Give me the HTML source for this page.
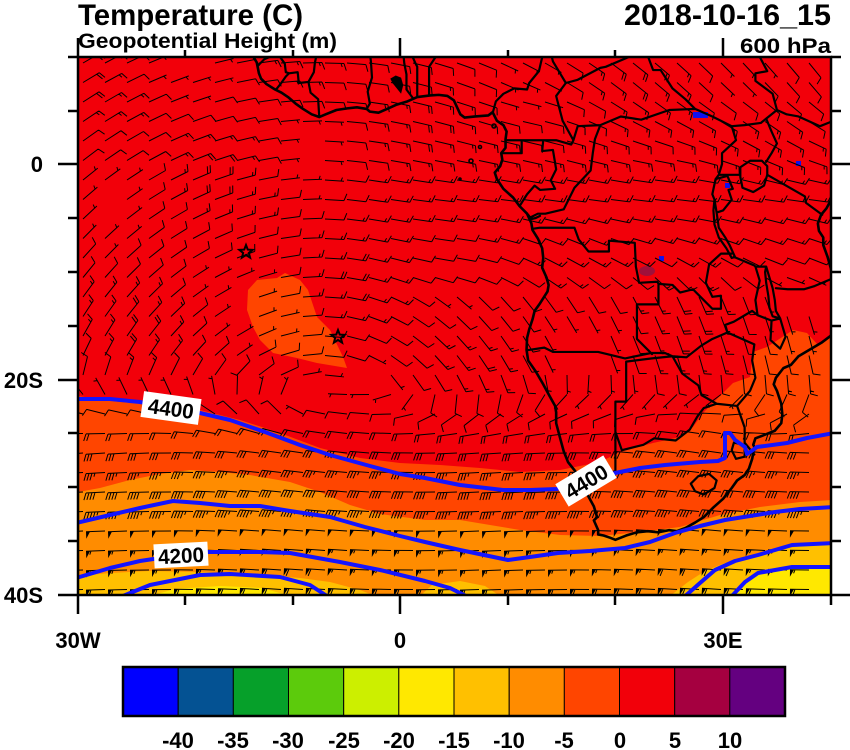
<!DOCTYPE html>
<html><head><meta charset="utf-8">
<style>
html,body{margin:0;padding:0;background:#fff;}
svg{display:block;}
text{font-family:"Liberation Sans",Arial,sans-serif;fill:#000;font-weight:bold;}
</style></head>
<body>
<svg id="s" width="850" height="750" viewBox="0 0 850 750" xmlns="http://www.w3.org/2000/svg">
<defs><clipPath id="mc"><rect x="78" y="57" width="754" height="538"/></clipPath></defs>
<rect x="0" y="0" width="850" height="750" fill="#fff"/>
<g clip-path="url(#mc)">
<rect x="78" y="57" width="754" height="538" fill="#F2000A"/>
<path fill="#FF4500" d="M78,396 L120,402 L170,404 L200,410 L240,420 L280,433 L320,448 L360,458 L400,463 L440,465 L480,468 L520,472 L560,470 L600,462 L620,452 L653,443 L680,437 L693,427 L703,413 L713,403 L733,383 L750,377 L753,352 L767,347 L793,330 L807,333 L818,345 L832,337 L832,596 L78,596 Z"/>
<path fill="#FF4500" d="M285,273 L300,280 L308,290 L317,317 L330,330 L343,357 L347,368 L317,363 L297,358 L273,353 L260,340 L253,327 L247,310 L248,290 L257,280 L277,278 Z"/>
<path fill="#FF8C00" d="M78,492 L100,488 L130,480 L160,474 L190,470 L220,472 L250,475 L290,482 L320,492 L350,505 L380,514 L425,520 L460,520 L490,525 L520,530 L560,535 L600,536 L640,532 L680,527 L720,515 L760,507 L800,502 L832,500 L832,596 L78,596 Z"/>
<path fill="#FFC000" d="M78,576 L110,573 L150,571 L200,572 L250,574 L300,578 L330,582 L360,590 L375,596 L78,596 Z"/>
<path fill="#FFC000" d="M420,596 L432,585 L460,581 L485,586 L500,596 Z"/>
<path fill="#FFC000" d="M670,596 L688,582 L705,571 L725,563 L750,556 L780,549 L810,545 L832,543 L832,596 Z"/>
<path fill="#FFE800" d="M150,596 L175,589 L220,586 L262,588 L290,596 Z"/>
<path fill="#FFE800" d="M728,596 L742,583 L758,573 L790,567 L832,566 L832,596 Z"/>
<rect x="693" y="112" width="15" height="6" fill="#1010F0"/>
<rect x="725" y="183" width="5" height="5" fill="#1010F0"/>
<rect x="796" y="161" width="5" height="5" fill="#1010F0"/>
<rect x="659" y="256" width="5" height="5" fill="#1010F0"/>
<ellipse cx="647" cy="271" rx="8" ry="5" fill="#A0103A"/>

<g transform="matrix(10.77 0 0 -10.8 400 164)" fill="none" stroke="#000" stroke-linejoin="round" stroke-linecap="round">
<path vector-effect="non-scaling-stroke" stroke-width="2.6" d="M-13.8 10.3 L-13.6 9.9 L-13.3 9.4 L-13.2 8.9 L-13.1 8.4 L-12.9 7.9 L-12.4 7.4 L-11.6 6.9 L-11.0 6.6 L-10.4 6.2 L-9.7 5.6 L-9.0 5.1 L-8.2 4.6 L-7.5 4.35 L-6.9 4.6 L-5.9 5.0 L-4.9 5.15 L-4.0 5.25 L-3.1 5.1 L-2.8 4.85 L-2.0 4.75 L-1.2 5.1 L-0.3 5.5 L0.7 5.8 L1.6 6.2 L2.8 6.35 L3.6 6.4 L4.4 6.3 L5.0 5.9 L5.6 4.6 L6.0 4.3 L7.0 4.4 L8.2 4.5 L8.6 4.8 L9.0 4.0 L9.6 3.6 L9.9 3.0 L9.8 2.3 L9.8 1.5 L9.4 1.0 L9.5 0.4 L9.3 -0.2 L8.8 -0.8 L9.0 -1.4 L9.6 -2.3 L10.5 -3.1 L11.1 -3.9 L11.8 -4.6 L12.2 -5.5 L12.3 -6.1 L12.8 -6.9 L13.2 -7.8 L13.3 -8.7 L13.2 -9.6 L13.6 -10.5 L13.8 -11.2 L13.7 -11.8 L13.0 -12.9 L12.5 -13.6 L12.3 -14.4 L12.0 -15.3 L11.8 -16.1 L11.75 -17.2 L11.9 -18.2 L12.6 -19.2 L13.3 -20.4 L13.9 -21.5 L14.4 -22.4 L14.5 -23.0 L14.5 -24.0 L14.9 -25.5 L15.2 -26.6 L15.6 -27.6 L16.4 -28.6 L16.9 -29.5 L17.4 -30.6 L18.0 -31.7 L18.3 -32.7 L18.0 -33.0 L18.4 -33.9 L18.4 -34.3 L18.9 -34.4 L19.5 -34.6 L20.0 -34.8 L21.0 -34.4 L22.0 -34.1 L23.0 -34.0 L24.0 -34.1 L25.0 -33.9 L25.7 -34.0 L26.5 -33.7 L27.4 -33.2 L28.2 -32.7 L29.1 -31.8 L30.0 -31.0 L30.8 -30.0 L31.3 -29.3 L32.0 -28.8 L32.4 -28.2 L32.7 -27.3 L32.9 -26.2 L32.8 -26.0 L33.0 -25.4 L33.8 -25.1 L34.8 -24.7 L35.4 -24.0 L35.5 -23.2 L35.4 -22.2 L35.0 -21.0 L34.7 -20.4 L34.9 -19.8 L35.6 -18.9 L36.3 -18.6 L37.0 -17.8 L38.2 -17.1 L39.2 -16.5 L40.0 -15.9 L40.6 -15.2"/>
<path vector-effect="non-scaling-stroke" stroke-width="2.6" d="M40.6 -10.4 L40.1 -10.0 L39.7 -8.6 L39.3 -7.5 L39.3 -6.8 L38.9 -6.2 L38.8 -5.5 L39.1 -4.7 L39.6 -4.1 L40.1 -3.2 L40.6 -2.5"/>
<path vector-effect="non-scaling-stroke" stroke-width="2.2" d="
M-13.2 9.1 L-12.6 9.7 L-12.0 9.95 L-11.2 10.0 L-10.7 9.3 L-10.6 8.5 L-10.3 8.4 L-10.6 8.1 L-11.1 7.4 L-11.5 6.9
M-10.3 8.4 L-9.5 8.5 L-9.4 7.5 L-8.5 7.6 L-8.3 6.6 L-7.6 6.0 L-7.5 4.4
M-8.5 7.6 L-8.0 8.5 L-7.9 9.4 L-7.7 10.3
M-3.1 5.1 L-2.8 5.6 L-3.0 6.7 L-2.6 8.0 L-2.7 9.5 L-2.8 10.3
M1.2 6.1 L0.6 6.9 L0.6 8.3 L0.4 9.3 L0.3 10.3
M1.6 6.2 L1.6 9.0 L1.4 9.4 L1.0 10.3
M2.7 6.35 L2.7 9.0 L3.3 9.9 L3.6 10.3
M8.6 4.7 L8.9 5.8 L9.6 6.5 L10.6 7.0 L11.8 6.9 L12.0 7.5 L12.9 8.6 L13.3 10.3
M9.8 2.2 L11.3 2.2 L11.3 1.0 L9.5 1.0
M11.3 2.2 L13.3 2.2 L14.5 2.2 L15.9 1.8 L16.1 2.2 L16.5 3.5 L18.6 3.6
M16.1 2.2 L15.1 4.0 L14.6 5.9 L14.5 6.3 L15.4 7.5 L14.2 9.5 L14.0 10.3
M13.3 2.2 L13.2 1.2 L14.2 1.3 L14.5 -0.5 L14.0 -1.5 L14.4 -2.3 L13.0 -2.4 L12.5 -2.0 L11.8 -2.8 L11.1 -3.9
M12.0 -5.0 L12.8 -4.6 L13.5 -4.6 L15.2 -4.2 L16.2 -2.2 L17.7 -0.6 L17.9 1.0 L18.1 2.3 L18.6 3.6
M11.9 -4.7 L12.2 -5.1 L12.6 -5.0 L13.0 -4.8
M12.3 -6.0 L13.0 -5.9 L16.2 -5.9 L16.6 -7.0 L17.5 -8.1 L19.4 -8.1 L19.4 -7.1 L21.8 -7.3 L21.9 -9.5 L22.2 -11.0 L23.9 -10.9 L24.0 -11.1
M24.0 -11.1 L24.0 -13.0 L22.0 -13.0 L22.0 -16.2 L23.4 -17.6
M11.75 -17.25 L13.4 -17.0 L14.2 -17.4 L18.4 -17.4 L20.9 -18.0 L23.3 -17.5 L24.6 -17.5 L25.3 -17.8
M25.3 -17.8 L23.4 -18.0 L21.0 -18.3 L21.0 -22.0 L20.0 -22.0 L20.0 -24.8 L20.0 -28.4 L19.0 -28.9 L17.4 -28.7 L16.5 -28.6
M20.0 -24.8 L20.6 -26.5 L22.6 -26.0 L23.6 -25.4 L25.6 -25.6 L26.9 -24.6 L27.6 -23.4 L28.2 -22.6 L29.4 -22.2
M25.3 -17.8 L26.2 -19.4 L27.7 -20.5 L28.0 -21.4 L29.4 -22.2 L31.3 -22.4
M25.3 -17.8 L26.6 -17.9 L28.0 -16.8 L29.0 -16.2 L30.4 -15.6 L32.9 -16.7 L32.7 -18.2 L33.0 -19.8 L32.5 -21.0 L31.3 -22.4 L32.0 -24.4 L32.0 -25.8 L32.9 -26.9
M31.0 -25.8 L32.0 -26.0 L32.0 -27.1 L31.2 -27.3 L30.8 -26.5 Z
M27.0 -29.6 L27.7 -28.9 L28.7 -28.7 L29.4 -29.3 L29.2 -30.0 L28.2 -30.6 L27.4 -30.3 Z
M30.4 -15.6 L30.2 -14.9 L31.0 -14.6 L32.7 -13.6 L33.2 -14.0 L33.0 -12.6 L33.4 -10.8 L33.0 -9.5 L32.9 -9.4 L31.0 -8.6
M33.2 -14.0 L34.5 -14.5 L35.3 -14.3 L35.8 -16.0 L35.3 -17.1 L34.4 -16.3 L34.5 -14.5
M34.0 -9.5 L34.3 -10.5 L34.6 -11.5 L34.8 -12.6 L34.9 -13.6 L35.3 -14.3 L34.6 -14.1 L34.3 -13.3 L34.2 -12.2 L34.0 -11.0 L33.9 -10.0 Z
M33.0 -9.5 L34.0 -9.5
M34.9 -11.5 L36.0 -11.6 L37.5 -11.6 L38.5 -11.3 L40.4 -10.5
M24.0 -11.1 L25.3 -11.2 L26.0 -11.9 L27.2 -11.6 L28.0 -12.4 L29.0 -13.4 L29.8 -13.4 L29.8 -12.2 L29.0 -12.3 L28.4 -11.0 L28.7 -9.3 L29.8 -8.3 L30.8 -8.3
M29.2 -3.3 L29.4 -4.5 L29.6 -5.9 L30.2 -6.8 L30.6 -7.5 L31.1 -8.6 L30.8 -8.7 L30.3 -7.8 L29.6 -6.8 L29.2 -5.6 L29.1 -4.3 Z
M29.2 -3.3 L29.0 -2.8 L29.3 -1.4 L29.6 -1.0 L29.9 0.0 L29.9 1.0 L31.2 2.2 L30.8 3.5 L29.0 4.4 L27.4 5.1 L25.0 5.0 L22.4 4.1 L20.5 4.4 L18.6 3.6
M29.3 -1.4 L30.4 -1.1 L30.9 -2.3 L30.5 -2.4 L30.8 -3.3 L30.0 -4.3 L29.4 -4.5
M29.6 -1.0 L31.6 -1.0
M31.6 -0.3 L32.5 0.3 L33.6 0.3 L34.1 -0.2 L34.1 -1.0 L33.8 -2.0 L32.8 -2.6 L31.8 -2.2 L31.6 -1.2 Z
M34.1 -1.0 L37.6 -3.0 L37.7 -3.6 L39.2 -4.7
M30.8 3.5 L32.0 3.6 L33.5 3.8 L34.0 4.2 L35.0 5.0
M34.0 4.2 L34.5 3.0 L35.0 1.9 L34.5 1.0 L34.0 0.2
M35.0 5.0 L35.9 4.6 L37.0 4.4 L39.0 3.5 L40.0 3.9 L41.0 3.9
M35.0 5.0 L34.6 6.5 L33.0 7.7 L33.0 8.4 L34.1 8.6 L33.2 10.3
M27.4 5.1 L26.5 6.0 L25.3 7.0 L24.2 8.7 L23.5 8.7 L22.9 10.3
M15.4 7.5 L16.5 7.8 L18.6 8.9 L19.1 9.0 L21.0 9.8 L22.0 10.3
"/>
<path fill="#000" stroke="none" d="M-0.4 8.2 L0.1 8.0 L0.3 7.3 L0.1 6.5 L-0.3 7.0 L-0.7 7.5 L-0.9 7.9 Z"/>
</g>
<g fill="none" stroke="#000" stroke-width="1.6">
<circle cx="494" cy="126" r="2"/>
<circle cx="480" cy="147" r="1.5"/>
<circle cx="471" cy="161" r="2"/>
<circle cx="460" cy="179" r="1"/>
</g>
<g fill="none" stroke="#000" stroke-width="2">
<polygon transform="translate(246,252)" points="0,-7 1.76,-2.43 6.66,-2.16 2.85,0.93 4.11,5.66 0,3 -4.11,5.66 -2.85,0.93 -6.66,-2.16 -1.76,-2.43"/>
<polygon transform="translate(338,337)" points="0,-7 1.76,-2.43 6.66,-2.16 2.85,0.93 4.11,5.66 0,3 -4.11,5.66 -2.85,0.93 -6.66,-2.16 -1.76,-2.43"/>
</g>
<g id="barbs"><path id="bl" fill="none" stroke="#000" stroke-width="1" d=""/><path id="bp" fill="#000" stroke="none" d=""/></g>
<g fill="none" stroke="#1414FF" stroke-width="4" stroke-linejoin="round">
<polyline points="76,399 110,399 140,402 200,413 230,420 265,432 300,445 330,455 370,466 400,474 425,478 460,485 503,490 530,490 557,489 586,481 615,473 640,468 665,465 700,462 718,461 725,458 725,433 730,433 735,440 745,447 747,454 753,450 757,447 787,443 807,438 834,433"/>
<polyline points="76,523 110,515 140,508 173,501 200,503 230,506 260,506 290,511 330,517 365,527 400,536 425,542 460,550 508,560 530,557 558,553 590,551 625,548 650,542 675,533 700,526 725,520 750,516 775,512 800,509 834,507"/>
<polyline points="76,578 110,568 140,561 160,558 200,552 260,552 290,553 340,562 380,570 425,581 450,588 470,598"/>
<polyline points="683,598 700,583 715,570 735,561 758,555 792,545 834,543"/>
<polyline points="118,598 150,585 200,575 230,574 280,577 310,585 330,598"/>
<polyline points="730,598 745,582 758,573 792,567 834,567"/>
</g>
<g transform="translate(171,408) rotate(8)"><rect x="-29" y="-13" width="58" height="26" fill="#fff"/><text x="-23" y="8" font-size="21" textLength="46" lengthAdjust="spacingAndGlyphs">4400</text></g>
<g transform="translate(586,481) rotate(-31)"><rect x="-28" y="-13" width="56" height="26" fill="#fff"/><text x="-23" y="8" font-size="21" textLength="46" lengthAdjust="spacingAndGlyphs">4400</text></g>
<g transform="translate(181,555) rotate(-3)"><rect x="-27" y="-12" width="54" height="24" fill="#fff"/><text x="-23" y="8" font-size="21" textLength="46" lengthAdjust="spacingAndGlyphs">4200</text></g>
</g>
<rect x="78" y="57" width="753" height="538" fill="none" stroke="#000" stroke-width="2.5"/>
<g stroke="#000" stroke-width="2.5">
<line x1="58" y1="164" x2="78" y2="164"/><line x1="58" y1="380" x2="78" y2="380"/><line x1="58" y1="595" x2="78" y2="595"/>
<line x1="68" y1="57" x2="78" y2="57"/><line x1="68" y1="111" x2="78" y2="111"/><line x1="68" y1="218" x2="78" y2="218"/><line x1="68" y1="272" x2="78" y2="272"/><line x1="68" y1="326" x2="78" y2="326"/><line x1="68" y1="433" x2="78" y2="433"/><line x1="68" y1="487" x2="78" y2="487"/><line x1="68" y1="541" x2="78" y2="541"/>
<line x1="831" y1="164" x2="851" y2="164"/><line x1="831" y1="380" x2="851" y2="380"/><line x1="831" y1="595" x2="851" y2="595"/>
<line x1="831" y1="57" x2="841" y2="57"/><line x1="831" y1="111" x2="841" y2="111"/><line x1="831" y1="218" x2="841" y2="218"/><line x1="831" y1="272" x2="841" y2="272"/><line x1="831" y1="326" x2="841" y2="326"/><line x1="831" y1="433" x2="841" y2="433"/><line x1="831" y1="487" x2="841" y2="487"/><line x1="831" y1="541" x2="841" y2="541"/>
<line x1="78" y1="38" x2="78" y2="57"/><line x1="400" y1="38" x2="400" y2="57"/><line x1="723" y1="38" x2="723" y2="57"/>
<line x1="185" y1="50" x2="185" y2="57"/><line x1="293" y1="50" x2="293" y2="57"/><line x1="508" y1="50" x2="508" y2="57"/><line x1="615" y1="50" x2="615" y2="57"/>
<line x1="78" y1="595" x2="78" y2="614"/><line x1="400" y1="595" x2="400" y2="614"/><line x1="723" y1="595" x2="723" y2="614"/>
<line x1="185" y1="595" x2="185" y2="605"/><line x1="293" y1="595" x2="293" y2="605"/><line x1="508" y1="595" x2="508" y2="605"/><line x1="615" y1="595" x2="615" y2="605"/><line x1="831" y1="595" x2="831" y2="605"/>
</g>
<text x="78" y="25" font-size="30" textLength="225" lengthAdjust="spacingAndGlyphs">Temperature (C)</text>
<text x="78" y="48" font-size="21" textLength="259" lengthAdjust="spacingAndGlyphs">Geopotential Height (m)</text>
<text x="624" y="25" font-size="30" textLength="207" lengthAdjust="spacingAndGlyphs">2018-10-16_15</text>
<text x="740" y="53" font-size="21" textLength="91" lengthAdjust="spacingAndGlyphs">600 hPa</text>
<g font-size="22">
<text x="43" y="172" text-anchor="end">0</text>
<text x="43" y="388" text-anchor="end">20S</text>
<text x="43" y="603" text-anchor="end">40S</text>
<text x="78" y="648" text-anchor="middle">30W</text>
<text x="400" y="648" text-anchor="middle">0</text>
<text x="723" y="648" text-anchor="middle">30E</text>
</g>
<g stroke="#000" stroke-width="1">
<rect x="123" y="667" width="55.2" height="49" fill="#0000FF"/>
<rect x="178.2" y="667" width="55.2" height="49" fill="#045293"/>
<rect x="233.3" y="667" width="55.2" height="49" fill="#06A02A"/>
<rect x="288.5" y="667" width="55.2" height="49" fill="#5CCB0C"/>
<rect x="343.7" y="667" width="55.2" height="49" fill="#CCEF00"/>
<rect x="398.8" y="667" width="55.2" height="49" fill="#FFE800"/>
<rect x="454" y="667" width="55.2" height="49" fill="#FFC000"/>
<rect x="509.2" y="667" width="55.2" height="49" fill="#FF8C00"/>
<rect x="564.3" y="667" width="55.2" height="49" fill="#FF4500"/>
<rect x="619.5" y="667" width="55.2" height="49" fill="#F2000A"/>
<rect x="674.7" y="667" width="55.2" height="49" fill="#A50040"/>
<rect x="729.8" y="667" width="55.2" height="49" fill="#640080"/>
</g>
<rect x="123" y="667" width="662" height="49" fill="none" stroke="#000" stroke-width="2.5"/>
<g font-size="22" text-anchor="middle">
<text x="178" y="748">-40</text>
<text x="233" y="748">-35</text>
<text x="288" y="748">-30</text>
<text x="344" y="748">-25</text>
<text x="399" y="748">-20</text>
<text x="454" y="748">-15</text>
<text x="509" y="748">-10</text>
<text x="564" y="748">-5</text>
<text x="620" y="748">0</text>
<text x="675" y="748">5</text>
<text x="730" y="748">10</text>
</g>
</svg>
<script>
(function(){
function wind(lon,lat){
  var tw=Math.min(1,Math.max(0,(-19-lat)/7));
  var uw=18+Math.max(0,-lat-23)*2.7, vw=3*Math.sin(lon/6)-1;
  var cx=-8, cy=-28, ddx=lon-cx, ddy=lat-cy;
  var r=Math.sqrt(ddx*ddx+ddy*ddy)+1;
  var sp=11+5*Math.sin(lon/4.3+lat/3.1)+4*Math.cos(lon/2.7-lat/5.3);
  var ut=-ddy/r*sp, vt=ddx/r*sp;
  if(lat>-12 && lon>-8){
    var e=Math.min(1,(lon+8)/10)*Math.max(0,1-Math.abs(lat+3)/11);
    ut=ut*(1-e)+(-17)*e; vt=vt*(1-e)+2*e;
  }
  return [ut*(1-tw)+uw*tw, vt*(1-tw)+vw*tw];
}
function f(n){return n.toFixed(1);}
var d='',p='';
for(var y=63;y<594;y+=19.5){
  for(var x=83;x<830;x+=22){
    var lon=(x-400)/10.77, lat=(164-y)/10.8;
    var w=wind(lon,lat), u=w[0], v=w[1];
    var s=Math.sqrt(u*u+v*v); if(s<3) continue;
    var dx=-u/s, dy=v/s, L=19;
    var tx=x+dx*L, ty=y+dy*L;
    d+='M'+f(x)+' '+f(y)+'L'+f(tx)+' '+f(ty);
    var side=lat<0?-1:1;
    var px=-dy*side, py=dx*side;
    var sp=Math.round(s/5)*5;
    var n50=Math.floor(sp/50); sp-=n50*50;
    var n10=Math.floor(sp/10); sp-=n10*10;
    var n5=sp>=5?1:0;
    var pos=0,k,ax,ay;
    for(k=0;k<n50;k++){
      ax=tx-dx*pos; ay=ty-dy*pos;
      p+='M'+f(ax)+' '+f(ay)+'L'+f(ax+px*7)+' '+f(ay+py*7)+'L'+f(ax-dx*4)+' '+f(ay-dy*4)+'Z';
      pos+=5;
    }
    for(k=0;k<n10;k++){
      ax=tx-dx*pos; ay=ty-dy*pos;
      d+='M'+f(ax)+' '+f(ay)+'L'+f(ax+px*7+dx*2.5)+' '+f(ay+py*7+dy*2.5);
      pos+=3;
    }
    if(n5){
      if(pos===0) pos=3;
      ax=tx-dx*pos; ay=ty-dy*pos;
      d+='M'+f(ax)+' '+f(ay)+'L'+f(ax+px*3.5+dx*1.3)+' '+f(ay+py*3.5+dy*1.3);
    }
  }
}
document.getElementById('bl').setAttribute('d',d);
document.getElementById('bp').setAttribute('d',p);
})();
</script>
</body></html>
